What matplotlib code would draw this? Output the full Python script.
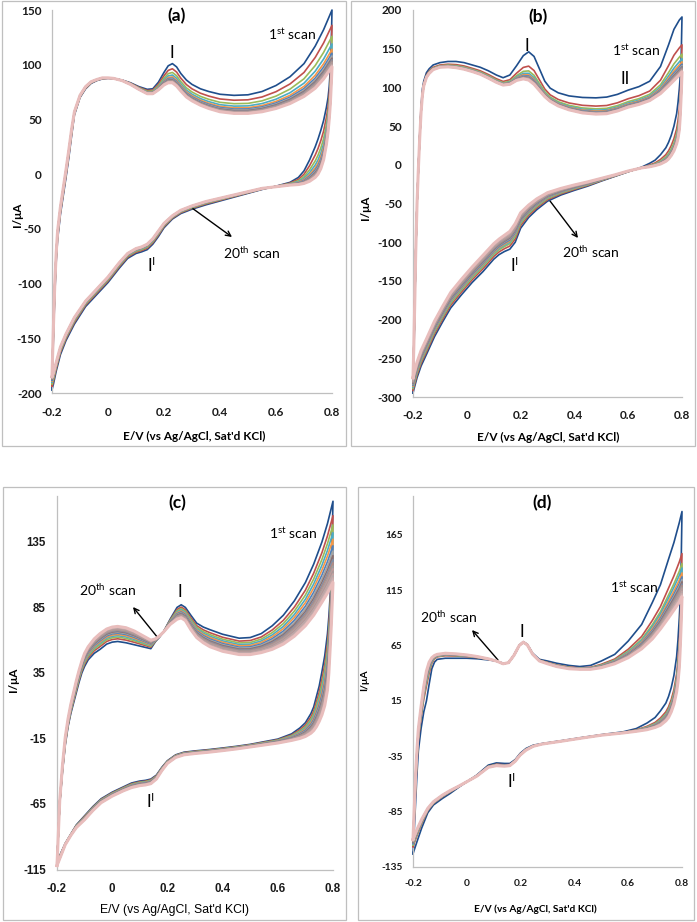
import matplotlib
matplotlib.use('Agg')
import matplotlib.pyplot as plt
import numpy as np
from matplotlib.patches import Rectangle
from matplotlib.font_manager import FontProperties

plt.rcParams['font.family'] = ['Lato', 'DejaVu Sans']
plt.rcParams['mathtext.default'] = 'regular'

# ---------------- data ----------------
# each panel: forward sweep (-0.2 -> 0.8) and reverse sweep (0.8 -> -0.2),
# currents of the 1st scan and of the 20th scan, plus the current of every
# scan at the anodic vertex (0.8 V), used to place scans 2..19 in the band.

# (a)
e_a_fwd = [-0.2, -0.195, -0.19, -0.185, -0.18, -0.17, -0.16, -0.15, -0.14, -0.13, -0.12, -0.10, -0.08, -0.06,
           -0.04, -0.02, 0.0, 0.02, 0.05, 0.08, 0.11, 0.14, 0.16, 0.18, 0.2, 0.215, 0.23, 0.245, 0.26, 0.28,
           0.3, 0.33, 0.36, 0.4, 0.45, 0.5, 0.55, 0.6, 0.65, 0.7, 0.74, 0.77, 0.8]
i_a_fwd_1 = [-197, -150, -110, -80, -60, -37, -20, -3, 15, 35, 54, 70, 78, 83, 85.5, 87, 87.5, 87.3, 86, 83.5,
             80, 77.5, 78, 84, 93, 99, 101, 98, 92, 86, 82, 78, 75.5, 73, 72, 72.5, 75.5, 81, 89, 101, 117, 132, 150]
i_a_fwd_20 = [-185, -140, -100, -72, -52, -30, -13, 4, 22, 41, 57, 72, 80, 84.5, 86.5, 88, 88, 87.5, 85.5, 82,
              77.5, 73.5, 73.5, 77, 81.5, 83.5, 83.5, 80.5, 76, 70.5, 67, 63, 60, 57, 55.5, 55.5, 57, 60, 64.5,
              71, 78.5, 87, 98]
e_a_rev = [0.8, 0.797, 0.794, 0.79, 0.786, 0.78, 0.77, 0.76, 0.75, 0.74, 0.72, 0.7, 0.68, 0.65, 0.6, 0.55, 0.5,
           0.45, 0.4, 0.35, 0.3, 0.26, 0.23, 0.2, 0.18, 0.16, 0.14, 0.12, 0.1, 0.07, 0.04, 0.0, -0.04, -0.08,
           -0.12, -0.15, -0.17, -0.185, -0.195, -0.2]
i_a_rev_1 = [150, 115, 95, 80, 70, 61, 49, 40, 32, 25, 13, 3, -3, -7.5, -11, -14, -17.5, -21, -24.5, -28, -32,
             -36, -41, -49, -57, -64, -69, -71, -72.5, -77, -86, -99, -110, -121, -137, -152, -165, -180, -192, -197]
i_a_rev_20 = [98, 80, 64, 50, 39, 27, 13, 5, 0, -3, -6.5, -8.5, -9.5, -10, -11.5, -13, -16, -19, -22, -25, -29,
              -33, -38, -45, -52, -59, -64, -66.5, -68, -72.5, -81, -94, -105, -116, -131, -146, -158, -172,
              -182, -185]
vtx_a = [150, 136, 126, 119, 114, 110.5, 108, 106, 104.5, 103.3, 102.3, 101.5, 100.8, 100.2, 99.7, 99.3, 98.9,
         98.6, 98.3, 98]

# (b)
e_b_fwd = [-0.2, -0.197, -0.193, -0.19, -0.185, -0.18, -0.175, -0.17, -0.165, -0.16, -0.15, -0.14, -0.125, -0.1,
           -0.07, -0.04, -0.01, 0.02, 0.05, 0.08, 0.11, 0.135, 0.16, 0.185, 0.21, 0.23, 0.25, 0.27, 0.29, 0.31,
           0.34, 0.38, 0.43, 0.48, 0.52, 0.56, 0.6, 0.64, 0.68, 0.72, 0.75, 0.77, 0.79, 0.8]
i_b_fwd_1 = [-295, -250, -180, -120, -50, -2, 40, 75, 98, 108, 119, 124, 129, 132, 133.5, 133.5, 132, 129, 126,
             121.5, 116, 112.5, 116, 128, 141, 146, 140, 124, 108, 99, 93, 89, 87, 86.5, 87.5, 91, 96.5, 101, 108,
             127, 155, 175, 187, 191]
i_b_fwd_20 = [-275, -235, -170, -115, -50, -5, 35, 68, 90, 102, 113, 118, 123, 126, 126.5, 125.5, 123.5, 120.5,
              117, 112, 106.5, 103, 104, 109, 111, 109.5, 104, 96, 88, 82, 76, 71, 67, 65.5, 66, 69.5, 74.5, 78,
              83, 92, 102, 109, 116, 120]
e_b_rev = [0.8, 0.797, 0.793, 0.79, 0.785, 0.78, 0.77, 0.76, 0.75, 0.74, 0.72, 0.7, 0.68, 0.65, 0.6, 0.55, 0.5,
           0.45, 0.4, 0.35, 0.3, 0.26, 0.23, 0.2, 0.18, 0.16, 0.14, 0.12, 0.1, 0.06, 0.02, -0.02, -0.06, -0.09,
           -0.12, -0.15, -0.17, -0.185, -0.195, -0.2]
i_b_rev_1 = [191, 140, 112, 98, 80, 66, 50, 38, 29, 22, 13, 6, 2, -3, -9, -15, -21, -27.5, -33, -39, -47, -58,
             -68, -82, -100, -109, -112, -116, -122, -138, -152, -168, -185, -203, -222, -245, -260, -275, -288,
             -295]
i_b_rev_20 = [120, 90, 60, 45, 34, 27, 18, 12, 7.5, 4.5, 1, -1, -2.5, -4, -8, -13, -17.5, -22, -26, -30.5, -36,
              -44, -52, -62, -76, -86, -91, -96, -102, -117, -132, -148, -165, -183, -202, -225, -240, -255,
              -268, -275]
vtx_b = [191, 155, 143, 137, 133, 130, 128, 126.5, 125.3, 124.3, 123.5, 122.8, 122.2, 121.7, 121.3, 121, 120.7,
         120.4, 120.2, 120]
# cathodic branch of (b): current of every scan at the I' wave (0.16 V)
dip_b = [-109, -105, -102, -100, -98.5, -97, -95.5, -94.5, -93.5, -92.5, -91.5, -90.7, -89.9, -89.2, -88.5,
         -87.9, -87.3, -86.8, -86.4, -86]

# (c)
e_c_fwd = [-0.2, -0.19, -0.18, -0.17, -0.16, -0.15, -0.14, -0.13, -0.12, -0.11, -0.1, -0.087, -0.065, -0.044,
           -0.02, 0.0, 0.02, 0.05, 0.08, 0.11, 0.14, 0.157, 0.17, 0.185, 0.21, 0.235, 0.25, 0.265, 0.285, 0.306,
           0.33, 0.354, 0.4, 0.46, 0.5, 0.54, 0.58, 0.62, 0.66, 0.7, 0.73, 0.76, 0.78, 0.8]
i_c_fwd_1 = [-109, -65, -40, -20, -6, 4, 12, 20, 28, 35, 40, 45, 50, 53, 57, 58.5, 59, 58, 56.5, 55, 53.5, 59,
             62, 66, 76, 85, 87, 85, 79, 73, 70, 68, 64.5, 61.5, 62, 65, 71, 79, 90, 104, 118, 135, 149, 166]
i_c_fwd_20 = [-112, -62, -35, -14, 0, 11, 20, 29, 37, 44, 50, 55, 61, 65, 68.5, 70, 70.5, 69.5, 67, 63.5, 60,
              61, 63, 66, 72, 76, 77, 75, 68, 62, 58, 55, 51.5, 49, 49, 50.5, 53, 57, 63, 71, 79, 89, 96, 104]
e_c_rev = [0.8, 0.797, 0.794, 0.79, 0.785, 0.78, 0.77, 0.76, 0.75, 0.74, 0.73, 0.72, 0.7, 0.68, 0.65, 0.6,
           0.55, 0.5, 0.45, 0.4, 0.35, 0.3, 0.26, 0.23, 0.2, 0.18, 0.16, 0.14, 0.12, 0.1, 0.07, 0.04, 0.0, -0.04,
           -0.07, -0.1, -0.13, -0.15, -0.17, -0.185, -0.2]
i_c_rev_1 = [166, 140, 118, 95, 78, 65, 48, 36, 25, 17, 9, 4, -3, -7, -11.5, -15.5, -17.5, -19.5, -21, -22.3,
             -23.5, -24.5, -25.5, -27.5, -32, -37, -43, -46, -47, -47.5, -49, -52, -56, -61, -67, -74, -81, -88,
             -95, -102, -109]
i_c_rev_20 = [104, 88, 72, 55, 35, 22, 10, 3, -2, -6, -9, -11, -13.5, -15, -16.5, -18.5, -20, -21.5, -23,
              -24.3, -25.5, -26.5, -27.5, -29.5, -34, -39.5, -46, -49.5, -50.5, -51, -52.5, -55, -59, -64, -70,
              -77, -83, -89, -96, -104, -112]
vtx_c = [166, 155, 148, 142, 137, 132, 128, 124.5, 121.5, 119, 116.5, 114.5, 112.5, 110.5, 109, 107.5, 106.5,
         105.5, 104.7, 104]

# (d)
e_d_fwd = [-0.2, -0.195, -0.19, -0.185, -0.18, -0.17, -0.16, -0.15, -0.14, -0.13, -0.12, -0.11, -0.08, -0.04,
           0.0, 0.04, 0.08, 0.11, 0.135, 0.155, 0.175, 0.195, 0.21, 0.225, 0.245, 0.27, 0.3, 0.334, 0.38, 0.42,
           0.46, 0.5, 0.55, 0.6, 0.65, 0.69, 0.72, 0.75, 0.77, 0.79, 0.8]
i_d_fwd_1 = [-123, -100, -75, -50, -30, -10, 5, 15, 30, 44, 50, 52.5, 53.5, 53.5, 53.5, 53, 52, 51, 49, 49.5,
             56, 65, 68.5, 66, 58, 52.5, 51, 49, 47, 46, 47, 51, 57, 69, 84, 104, 120, 143, 158, 176, 186]
i_d_fwd_20 = [-110, -80, -50, -28, -10, 10, 28, 42, 50, 54, 56, 57, 58, 57.5, 56.5, 55, 53, 51, 48.5, 49.5, 56,
              65, 68, 65.5, 57, 51, 48.5, 46, 44, 43.5, 43.5, 45, 48.5, 54, 62, 71, 80, 90, 97, 104, 109]
e_d_rev = [0.8, 0.797, 0.793, 0.79, 0.785, 0.78, 0.77, 0.76, 0.75, 0.74, 0.72, 0.7, 0.67, 0.63, 0.58, 0.5,
           0.43, 0.35, 0.28, 0.247, 0.22, 0.198, 0.18, 0.16, 0.14, 0.11, 0.08, 0.037, 0.0, -0.03, -0.062, -0.09,
           -0.124, -0.145, -0.168, -0.185, -0.2]
i_d_rev_1 = [186, 140, 105, 90, 70, 55, 38, 27, 19, 13, 6, 0, -5, -10, -13, -15.5, -18, -21, -23.5, -25, -28,
             -32.5, -38, -41.5, -41.5, -41, -43, -52, -58, -63, -68.6, -73, -79, -86, -100, -112, -123]
i_d_rev_20 = [109, 85, 60, 45, 32, 23, 12, 5, 0, -3, -7, -9, -11, -12.5, -14, -16, -18.5, -21.5, -24, -26,
              -29.5, -34, -39.5, -43.5, -44, -43.5, -45, -53, -58, -62, -66, -70, -76, -82, -92, -101, -110]
vtx_d = [186, 148, 139, 135, 130.5, 127, 124.5, 122.5, 120.5, 119, 117.5, 116, 115, 114, 113, 112, 111.3,
         110.6, 110, 109]

x_ticks = [-0.2, 0, 0.2, 0.4, 0.6, 0.8]
x_ticklabels = ['-0.2', '0', '0.2', '0.4', '0.6', '0.8']
y_ticks_a = [-200, -150, -100, -50, 0, 50, 100, 150]
y_ticks_b = [-300, -250, -200, -150, -100, -50, 0, 50, 100, 150, 200]
y_ticks_c = [-115, -65, -15, 35, 85, 135]
y_ticks_d = [-135, -85, -35, 15, 65, 115, 165]

scan_colors = ['#1F4E8C', '#C0504D', '#9BBB59', '#4BACC6', '#F79646', '#4F81BD', '#A5A5A5', '#8C6F6F',
               '#7F8FA6', '#B28B84', '#9E9E9E', '#C29B9B', '#A89A9A', '#C8A3A3', '#B3ABAB', '#D1A7A7',
               '#C4B4B4', '#DBAFAF', '#D6BDBD', '#E8BDBC']

# ---------------- figure ----------------
W, H = 697, 922
fig = plt.figure(figsize=(W / 100, H / 100), dpi=100)


def fx(x):
    return x / W


def fy(y):
    return 1 - y / H


def add_axes_px(left, top, right, bottom):
    return fig.add_axes([fx(left), fy(bottom), (right - left) / W, (bottom - top) / H])


def draw_cv(ax, e_fwd, f1, f20, e_rev, r1, r20, vtx, dip=None, e_switch=0.65):
    f1, f20 = np.asarray(f1, float), np.asarray(f20, float)
    r1, r20 = np.asarray(r1, float), np.asarray(r20, float)
    e_rev = np.asarray(e_rev, float)
    e = np.concatenate([e_fwd, e_rev])
    vtx = np.asarray(vtx, float)
    w_fwd = (vtx[0] - vtx) / (vtx[0] - vtx[-1])
    if dip is None:
        w_rev = w_fwd
    else:
        dip = np.asarray(dip, float)
        w_rev = (dip[0] - dip) / (dip[0] - dip[-1])
    for k in range(20):
        fwd = f1 + w_fwd[k] * (f20 - f1)
        # near the vertex the cathodic sweep follows the anodic spread
        wr = np.where(e_rev >= e_switch, w_fwd[k], w_rev[k])
        rev = r1 + wr * (r20 - r1)
        lw = 2.2 if k == 19 else 1.2
        ax.plot(e, np.concatenate([fwd, rev]), color=scan_colors[k], lw=lw, clip_on=False,
                solid_joinstyle='round', zorder=2 + k)


def style_axes(ax, ylim, yticks, font, xpad, ypad):
    ax.set_xlim(-0.2, 0.8)
    ax.set_ylim(*ylim)
    ax.set_xticks(x_ticks)
    ax.set_xticklabels(x_ticklabels)
    ax.set_yticks(yticks)
    ax.set_yticklabels([str(v) for v in yticks])
    for s in ['top', 'right']:
        ax.spines[s].set_visible(False)
    for s in ['left', 'bottom']:
        ax.spines[s].set_color('#BFBFBF')
        ax.spines[s].set_linewidth(0.9)
    ax.tick_params(axis='both', length=0, colors='#1A1A1A')
    ax.tick_params(axis='x', pad=xpad)
    ax.tick_params(axis='y', pad=ypad)
    for lab in ax.get_xticklabels() + ax.get_yticklabels():
        lab.set_fontproperties(font)
    ax.patch.set_alpha(0)


font_ab = dict(family=['Lato', 'DejaVu Sans'], weight='bold', size=8.5)
font_c = dict(family=['Liberation Sans Narrow', 'Liberation Sans', 'DejaVu Sans'], weight='bold', size=8.3)
font_d = dict(family=['Lato', 'DejaVu Sans'], weight='bold', size=7.3)

# panel frames
for (l, t, r, b) in [(2, 1, 346, 446), (351, 1, 695, 446), (3, 487, 346, 920), (358, 487, 694, 920)]:
    fig.add_artist(Rectangle((fx(l), fy(b)), (r - l) / W, (b - t) / H, transform=fig.transFigure,
                             fill=False, edgecolor='#BFBFBF', lw=0.9))

ax_a = add_axes_px(52, 10, 332, 393)
draw_cv(ax_a, e_a_fwd, i_a_fwd_1, i_a_fwd_20, e_a_rev, i_a_rev_1, i_a_rev_20, vtx_a)
style_axes(ax_a, (-200, 150), y_ticks_a, FontProperties(**font_ab), 10, 7.5)

ax_b = add_axes_px(413, 10, 682, 397)
draw_cv(ax_b, e_b_fwd, i_b_fwd_1, i_b_fwd_20, e_b_rev, i_b_rev_1, i_b_rev_20, vtx_b, dip=dip_b)
style_axes(ax_b, (-300, 200), y_ticks_b, FontProperties(**font_ab), 9.5, 8)

ax_c = add_axes_px(57, 496, 333, 869.5)
draw_cv(ax_c, e_c_fwd, i_c_fwd_1, i_c_fwd_20, e_c_rev, i_c_rev_1, i_c_rev_20, vtx_c)
style_axes(ax_c, (-115, 170), y_ticks_c, FontProperties(**font_c), 10, 8)

ax_d = add_axes_px(413, 496, 682, 867)
draw_cv(ax_d, e_d_fwd, i_d_fwd_1, i_d_fwd_20, e_d_rev, i_d_rev_1, i_d_rev_20, vtx_d)
style_axes(ax_d, (-135, 200), y_ticks_d, FontProperties(**font_d), 8.5, 7.5)


# ---------------- texts ----------------
def ftext(x, y, s, **kw):
    fig.text(fx(x), fy(y), s, ha=kw.pop('ha', 'center'), va=kw.pop('va', 'center'), **kw)


for x, y, s in [(177, 16, '(a)'), (538, 17, '(b)'), (177, 503, '(c)'), (542, 503, '(d)')]:
    ftext(x, y, s, fontsize=12.5, fontweight='bold')

xlab = "E/V (vs Ag/AgCl, Sat'd KCl)"
ftext(194, 436, xlab, fontsize=8.5, fontweight='bold')
ftext(548, 437, xlab, fontsize=8.5, fontweight='bold')
ftext(174, 910, xlab, fontsize=8.8, family=['Liberation Sans Narrow', 'Liberation Sans'])
ftext(535, 909, xlab, fontsize=7.3, fontweight='bold')

ftext(18, 215, 'I/μA', fontsize=8.5, fontweight='bold', rotation=90)
ftext(365, 208, 'I/μA', fontsize=8.5, fontweight='bold', rotation=90)
ftext(14, 680, 'I/μA', fontsize=8.5, fontweight='bold', rotation=90)
ftext(365, 680, 'I/μA', fontsize=7.5, fontweight='bold', rotation=90)

scan1 = '1$^{st}$ scan'
scan20 = '20$^{th}$ scan'
ftext(292, 34, scan1, fontsize=10)
ftext(636, 50, scan1, fontsize=10)
ftext(293, 533, scan1, fontsize=10)
ftext(634, 587, scan1, fontsize=10)
ftext(252, 253, scan20, fontsize=10)
ftext(591, 252, scan20, fontsize=10)
ftext(108, 590, scan20, fontsize=10)
ftext(449, 617, scan20, fontsize=10)

# peak labels
for x, y in [(172, 53), (527, 46), (180, 592), (522, 632)]:
    ftext(x, y, 'I', fontsize=12)
ftext(625, 79, 'II', fontsize=12)
for x, y in [(151, 265), (514, 265), (150, 801), (511, 781)]:
    ftext(x, y, 'I$^{I}$', fontsize=12)

# arrows (tail -> head, image pixels)
for (x0, y0), (x1, y1) in [((192, 208), (232, 237)), ((547, 197), (578, 238)),
                           ((158, 638), (133, 607)), ((498, 660), (472, 630))]:
    ax_a.annotate('', xy=(fx(x1), fy(y1)), xytext=(fx(x0), fy(y0)), xycoords='figure fraction',
                  textcoords='figure fraction',
                  arrowprops=dict(arrowstyle='->', lw=1.0, color='black', shrinkA=0, shrinkB=0,
                                  mutation_scale=9))

fig.savefig('out.png', dpi=100)
